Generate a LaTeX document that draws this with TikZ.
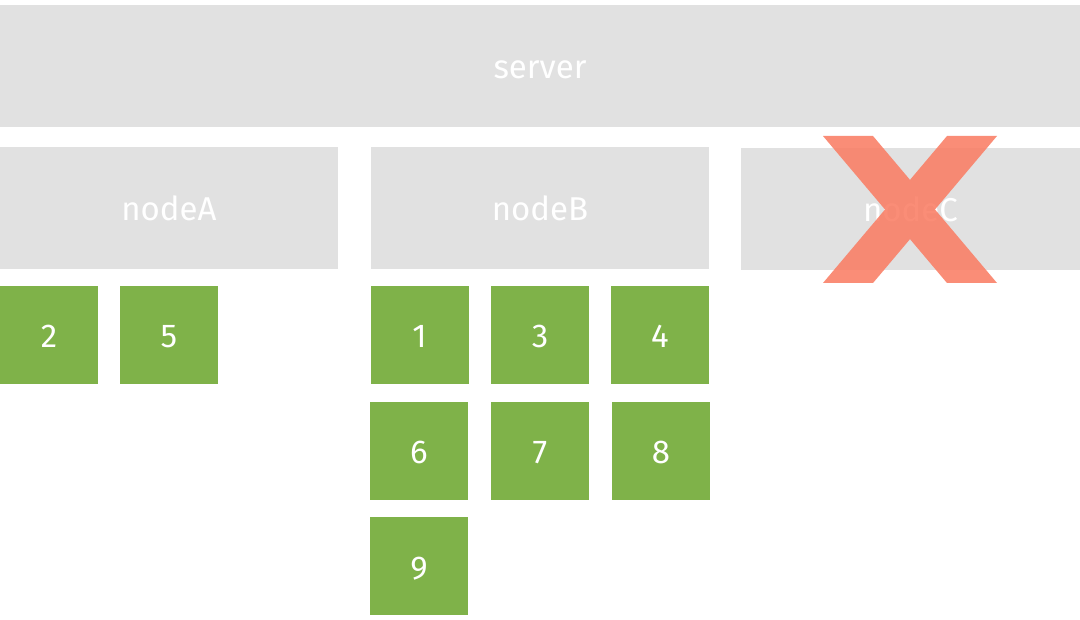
\documentclass[tikz,border=0pt]{standalone}
\usepackage{fontspec}
\setmainfont{Fira Sans}
\begin{document}
\begin{tikzpicture}[x=1pt,y=-1pt,
  basebox/.style={draw=none,inner sep=0pt,font=\fontsize{33}{38}\selectfont,text=white,text height=26pt,text depth=0pt},
  graybox/.style={basebox,fill=boxgray},
  greenbox/.style={basebox,fill=boxgreen,minimum width=98pt,minimum height=98pt}]
\definecolor{boxgray}{HTML}{E1E1E1}
\definecolor{boxgreen}{HTML}{7FB249}
\definecolor{xred}{HTML}{FA7A60}
\useasboundingbox (0,0) rectangle (1080,620);
\fill[white] (0,0) rectangle (1080,620);
\node[graybox,minimum width=1080pt,minimum height=122pt] (server) at (540,66) {server};
\node[graybox,minimum width=338pt,minimum height=122pt] (nodeA) at (169,208) {nodeA};
\node[graybox,minimum width=338pt,minimum height=122pt] (nodeB) at (540,208) {nodeB};
\node[graybox,minimum width=339pt,minimum height=122pt] (nodeC) at (910.5,209) {nodeC};
\foreach \nm/\cx/\cy in {2/49/335,5/169/335,1/419.5/335,3/540/335,4/660/335,6/419/451,7/540/451,8/661/451,9/419/566}
  \node[greenbox] (g\nm) at (\cx,\cy) {\nm};
\fill[xred,opacity=0.85] (823,136) -- (873,136) -- (997,283) -- (947,283) -- cycle
  (947,136) -- (997,136) -- (873,283) -- (823,283) -- cycle;
\end{tikzpicture}
\end{document}
